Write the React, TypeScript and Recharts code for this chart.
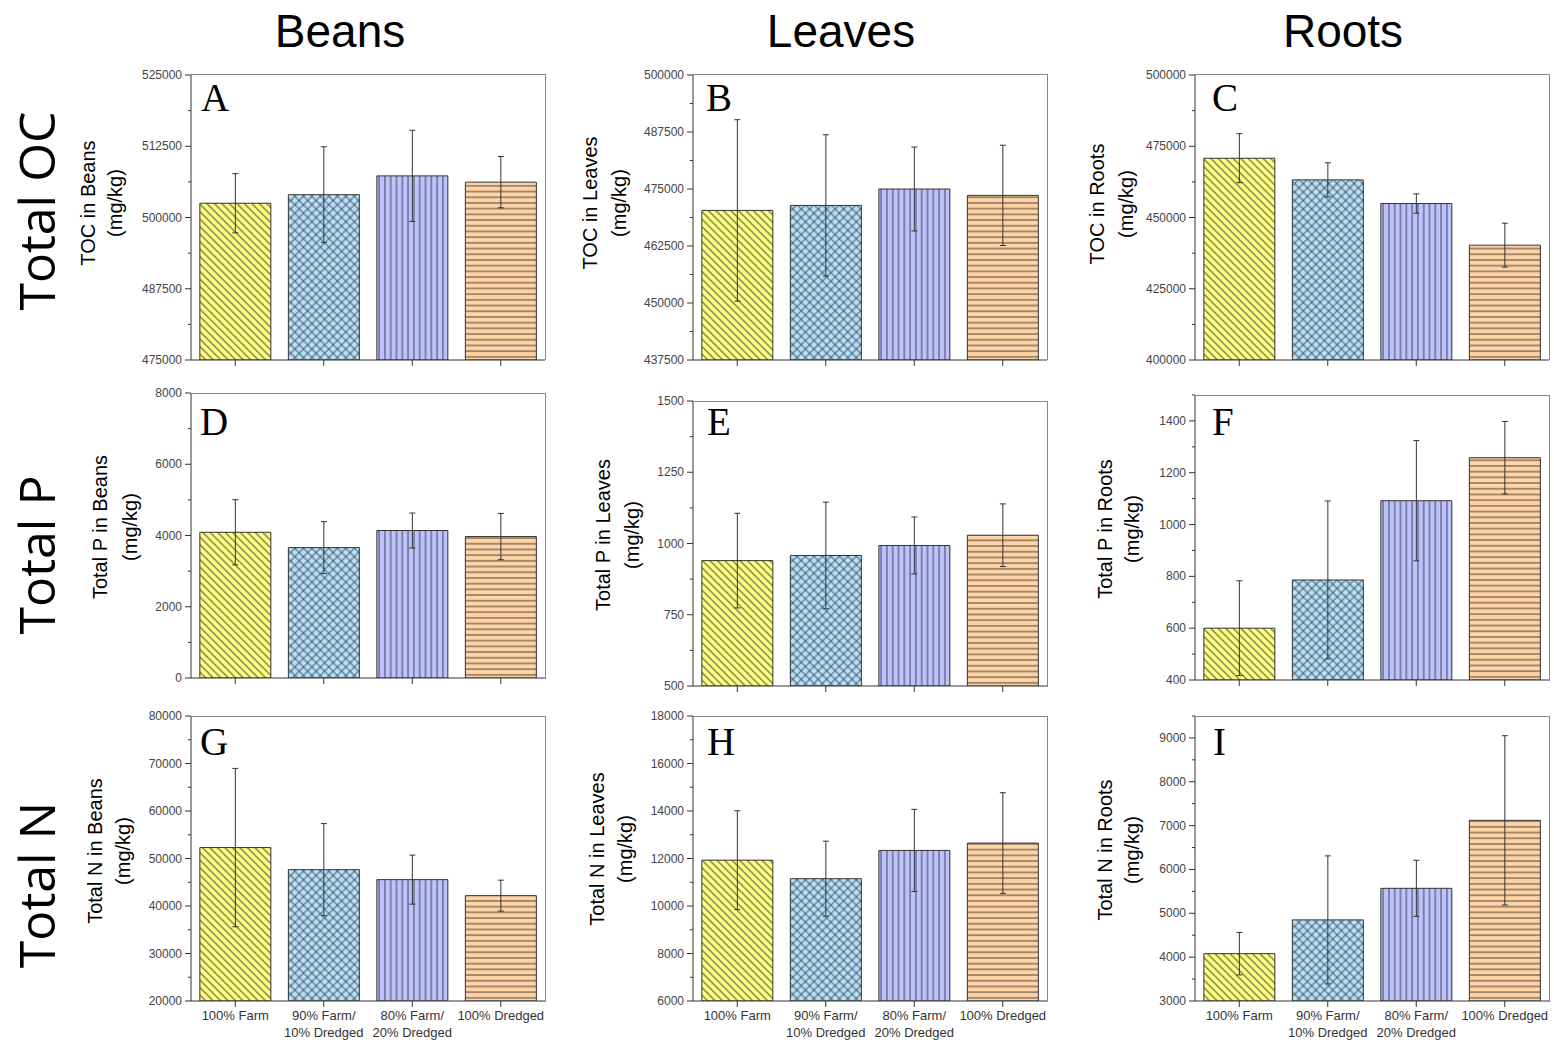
import React from 'react';
import { BarChart, Bar, XAxis, YAxis, ErrorBar, Cell } from 'recharts';

const categories = ['100% Farm', '90% Farm/10% Dredged', '80% Farm/20% Dredged', '100% Dredged'];
const fills = ['#FFFF80', '#B5E3FF', '#BDC3FF', '#FFD3A4'];

const columnTitles = ['Beans', 'Leaves', 'Roots'];
const rowTitles = ['Total OC', 'Total P', 'Total N'];

// Total OC (mg/kg)
const tocBeans = [502500, 504000, 507300, 506200];
const tocBeansErr = [5200, 8400, 8000, 4500];
const tocLeaves = [470300, 471400, 475000, 473600];
const tocLeavesErr = [19900, 15500, 9200, 11000];
const tocRoots = [470800, 463200, 454900, 440300];
const tocRootsErr = [8600, 6000, 3400, 7700];

// Total P (mg/kg)
const tpBeans = [4090, 3660, 4140, 3970];
const tpBeansErr = [915, 730, 490, 650];
const tpLeaves = [940, 958, 993, 1029];
const tpLeavesErr = [166, 187, 100, 110];
const tpRoots = [600, 786, 1092, 1258];
const tpRootsErr = [183, 305, 232, 140];

// Total N (mg/kg)
const tnBeans = [52300, 47650, 45550, 42180];
const tnBeansErr = [16670, 9700, 5160, 3260];
const tnLeaves = [11930, 11150, 12340, 12650];
const tnLeavesErr = [2080, 1580, 1730, 2120];
const tnRoots = [4080, 4850, 5570, 7120];
const tnRootsErr = [485, 1460, 640, 1930];

// y tick labels
const ticksA = [475000, 487500, 500000, 512500, 525000];
const ticksB = [437500, 450000, 462500, 475000, 487500, 500000];
const ticksC = [400000, 425000, 450000, 475000, 500000];
const ticksD = [0, 2000, 4000, 6000, 8000];
const ticksE = [500, 750, 1000, 1250, 1500];
const ticksF = [400, 600, 800, 1000, 1200, 1400];
const ticksG = [20000, 30000, 40000, 50000, 60000, 70000, 80000];
const ticksH = [6000, 8000, 10000, 12000, 14000, 16000, 18000];
const ticksI = [3000, 4000, 5000, 6000, 7000, 8000, 9000];

const PLOT_W = 354;
const PLOT_H = 285;
const AXIS_W = 70;
const TOP_M = 6;
const RIGHT_M = 6;
const TICK_SIZE = 6;
const TICK_MARGIN = 3;

const panels = [
  { id: 'A', ylab: 'TOC in Beans', values: tocBeans, errs: tocBeansErr, ticks: ticksA, domain: [475000, 525000], left: 191, top: 74.5, lab: [88, 115, 203], letter: [201, 111], showX: false },
  { id: 'B', ylab: 'TOC in Leaves', values: tocLeaves, errs: tocLeavesErr, ticks: ticksB, domain: [437500, 500000], left: 693, top: 74.5, lab: [590, 619, 203], letter: [706, 111], showX: false },
  { id: 'C', ylab: 'TOC in Roots', values: tocRoots, errs: tocRootsErr, ticks: ticksC, domain: [400000, 500000], left: 1195, top: 74.5, lab: [1097, 1126, 204], letter: [1212, 111], showX: false },
  { id: 'D', ylab: 'Total P in Beans', values: tpBeans, errs: tpBeansErr, ticks: ticksD, domain: [0, 8000], left: 191, top: 393, lab: [100, 130, 527], letter: [200, 435], showX: false },
  { id: 'E', ylab: 'Total P in Leaves', values: tpLeaves, errs: tpLeavesErr, ticks: ticksE, domain: [500, 1500], left: 693, top: 401, lab: [603, 632, 535], letter: [707, 435], showX: false },
  { id: 'F', ylab: 'Total P in Roots', values: tpRoots, errs: tpRootsErr, ticks: ticksF, domain: [400, 1500], left: 1195, top: 395, lab: [1105, 1132, 529], letter: [1212, 435], showX: false },
  { id: 'G', ylab: 'Total N in Beans', values: tnBeans, errs: tnBeansErr, ticks: ticksG, domain: [20000, 80000], left: 191, top: 716, lab: [95, 123, 851], letter: [200, 755], showX: true },
  { id: 'H', ylab: 'Total N in Leaves', values: tnLeaves, errs: tnLeavesErr, ticks: ticksH, domain: [6000, 18000], left: 693, top: 716, lab: [597, 625, 849], letter: [707, 755], showX: true },
  { id: 'I', ylab: 'Total N in Roots', values: tnRoots, errs: tnRootsErr, ticks: ticksI, domain: [3000, 9500], left: 1195, top: 716, lab: [1105, 1132, 850], letter: [1213, 755], showX: true },
];

// major ticks plus minor ticks halfway between them
const withMinor = (ticks: number[], max: number) => {
  const out: number[] = [];
  const step = ticks[1] - ticks[0];
  ticks.forEach((t, i) => {
    out.push(t);
    const mid = t + step / 2;
    if (i < ticks.length - 1 || mid <= max) out.push(mid);
  });
  return out;
};

const YTick = (props: any) => {
  const { x, y, payload, majors } = props;
  const ax = x + TICK_SIZE + TICK_MARGIN;
  const major = majors.includes(payload.value);
  return (
    <g>
      <line x1={ax - (major ? 6 : 3)} x2={ax} y1={y} y2={y} stroke="#333" strokeWidth={1} />
      {major && (
        <text x={x} y={y} dy={4} textAnchor="end" fontSize={12} fill="#444" fontFamily="'Liberation Sans', Arial, sans-serif">
          {payload.value}
        </text>
      )}
    </g>
  );
};

const XTick = (props: any) => {
  const { x, y, payload, show } = props;
  if (!show) return <g />;
  const parts = String(payload.value).split('/');
  const lines = parts.length > 1 ? [parts[0] + '/', parts[1]] : parts;
  return (
    <text x={x} y={y + 10} textAnchor="middle" fontSize={13} fill="#333" fontFamily="'Liberation Sans', Arial, sans-serif">
      {lines.map((l, i) => (
        <tspan key={i} x={x} dy={i === 0 ? 0 : 16.5}>{l}</tspan>
      ))}
    </text>
  );
};

const Patterns = ({ id }: { id: string }) => (
  <defs>
    <pattern id={`${id}-p0`} patternUnits="userSpaceOnUse" width={5.3} height={5.3} patternTransform="rotate(-45)">
      <rect width={5.3} height={5.3} fill={fills[0]} />
      <line x1={2.65} y1={0} x2={2.65} y2={5.3} stroke="#333" strokeWidth={0.9} />
    </pattern>
    <pattern id={`${id}-p1`} patternUnits="userSpaceOnUse" width={6} height={6} patternTransform="rotate(45)">
      <rect width={6} height={6} fill={fills[1]} />
      <line x1={3} y1={0} x2={3} y2={6} stroke="#333" strokeWidth={0.8} />
      <line x1={0} y1={3} x2={6} y2={3} stroke="#333" strokeWidth={0.8} />
    </pattern>
    <pattern id={`${id}-p2`} patternUnits="userSpaceOnUse" width={5.8} height={5.8}>
      <rect width={5.8} height={5.8} fill={fills[2]} />
      <line x1={2.9} y1={0} x2={2.9} y2={5.8} stroke="#333" strokeWidth={0.9} />
    </pattern>
    <pattern id={`${id}-p3`} patternUnits="userSpaceOnUse" width={5.7} height={5.7}>
      <rect width={5.7} height={5.7} fill={fills[3]} />
      <line x1={0} y1={2.85} x2={5.7} y2={2.85} stroke="#333" strokeWidth={0.9} />
    </pattern>
  </defs>
);

const Panel = ({ p }: { p: any }) => {
  const data = categories.map((c, i) => ({ name: c, value: p.values[i], err: p.errs[i] }));
  const xAxisH = p.showX ? 46 : 10;
  const allTicks = withMinor(p.ticks, p.domain[1]);
  return (
    <>
      <div style={{ position: 'absolute', left: p.left - AXIS_W, top: p.top - TOP_M }}>
        <BarChart
          width={AXIS_W + PLOT_W + RIGHT_M}
          height={TOP_M + PLOT_H + xAxisH}
          data={data}
          margin={{ top: TOP_M, right: RIGHT_M, left: 0, bottom: 0 }}
          barCategoryGap="10%"
        >
          <Patterns id={p.id} />
          <XAxis
            dataKey="name"
            height={xAxisH}
            interval={0}
            tickSize={TICK_SIZE}
            tickMargin={TICK_MARGIN}
            axisLine={{ stroke: '#333' }}
            tickLine={{ stroke: '#333' }}
            tick={(props: any) => <XTick {...props} show={p.showX} />}
          />
          <YAxis
            type="number"
            domain={p.domain}
            ticks={allTicks}
            interval={0}
            width={AXIS_W}
            allowDataOverflow
            tickSize={TICK_SIZE}
            tickMargin={TICK_MARGIN}
            tickLine={false}
            axisLine={{ stroke: '#333' }}
            tick={(props: any) => <YTick {...props} majors={p.ticks} />}
          />
          <Bar dataKey="value" isAnimationActive={false} stroke="#333" strokeWidth={1}>
            {data.map((d, i) => (
              <Cell key={d.name} fill={`url(#${p.id}-p${i})`} />
            ))}
            <ErrorBar dataKey="err" width={3} stroke="#333" strokeWidth={1} />
          </Bar>
        </BarChart>
      </div>
      {/* grey frame on top and right of the plot */}
      <div
        style={{
          position: 'absolute',
          left: p.left,
          top: p.top - 0.5,
          width: PLOT_W,
          height: PLOT_H,
          borderTop: '1px solid #888',
          borderRight: '1px solid #888',
          pointerEvents: 'none',
        }}
      />
    </>
  );
};

export default function App() {
  return (
    <div style={{ position: 'absolute', left: 0, top: 0, width: 1554, height: 1042, background: '#fff', overflow: 'hidden' }}>
      {panels.map((p) => (
        <Panel key={p.id} p={p} />
      ))}
      <svg width={1554} height={1042} style={{ position: 'absolute', left: 0, top: 0, pointerEvents: 'none' }}>
        {columnTitles.map((t, i) => (
          <text key={t} x={[340, 841, 1343][i]} y={47} textAnchor="middle" fontSize={46} fontFamily="'Liberation Sans', Arial, sans-serif" fill="#000">
            {t}
          </text>
        ))}
        {rowTitles.map((t, i) => {
          const cx = 36;
          const cy = [211, 555, 885][i];
          return (
            <text key={t} x={cx} y={cy} transform={`rotate(-90 ${cx} ${cy})`} textAnchor="middle" dominantBaseline="central" fontSize={50} fontFamily="'Open Sans', sans-serif" fill="#000">
              {t}
            </text>
          );
        })}
        {panels.map((p) => (
          <g key={p.id}>
            <text x={p.letter[0]} y={p.letter[1]} fontSize={39} fontFamily="'Liberation Serif', 'Times New Roman', serif" fill="#000">
              {p.id}
            </text>
            {[p.ylab, '(mg/kg)'].map((l, j) => {
              const lx = p.lab[j];
              const ly = p.lab[2];
              return (
                <text key={j} x={lx} y={ly} transform={`rotate(-90 ${lx} ${ly})`} textAnchor="middle" dominantBaseline="central" fontSize={20} fontFamily="'Liberation Sans', Arial, sans-serif" fill="#000">
                  {l}
                </text>
              );
            })}
          </g>
        ))}
      </svg>
    </div>
  );
}
